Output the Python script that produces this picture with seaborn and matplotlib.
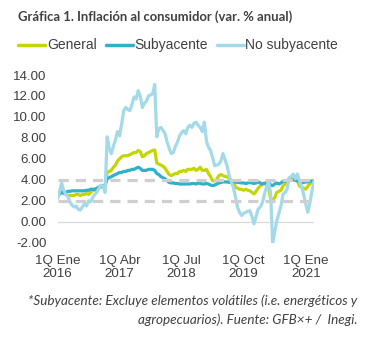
import numpy as np
import pandas as pd
import matplotlib
matplotlib.use("Agg")
import matplotlib.pyplot as plt
import seaborn as sns

# Biweekly annual inflation (%), 1Q Ene 2016 onward
general = [
    2.5, 2.6, 2.9, 2.8, 2.6, 2.5, 2.5, 2.5, 2.5, 2.6, 2.6, 2.5, 2.6, 2.6, 2.7, 2.6,
    2.8, 3.0, 3.0, 3.1, 3.3, 3.3, 3.4, 3.4, 4.7, 4.8, 4.9, 5.2, 5.4, 5.8, 6.0, 6.2,
    6.3, 6.3, 6.3, 6.4, 6.5, 6.6, 6.6, 6.8, 6.7, 6.2, 6.3, 6.5, 6.6, 6.7, 6.8, 6.85,
    5.6, 5.5, 5.4, 5.3, 5.1, 4.8, 4.5, 4.4, 4.5, 4.6, 4.6, 4.8, 4.8, 4.9, 4.8, 5.0,
    5.0, 5.0, 5.1, 4.9, 5.0, 5.2, 4.9, 4.9, 5.0, 4.6, 4.3, 3.9, 3.9, 4.05, 4.4, 4.5,
    4.4, 4.3, 4.3, 4.1, 3.9, 3.8, 3.3, 3.2, 3.1, 3.1, 3.0, 3.1, 3.0, 2.95, 2.8, 2.65,
    2.9, 3.2, 3.4, 3.6, 3.7, 3.5, 3.3, 2.2, 2.1, 2.3, 2.8, 2.9, 3.0, 3.4, 3.6, 3.9,
    4.0, 4.1, 4.1, 4.0, 3.9, 3.4, 3.3, 3.2, 3.1, 3.4, 3.6, 3.8, 3.9,
]
subyacente = [
    2.5, 2.7, 2.8, 2.7, 2.8, 2.9, 2.9, 2.95, 2.95, 2.95, 2.95, 2.95, 2.95, 2.95, 3.0, 3.0,
    3.1, 3.1, 3.1, 3.2, 3.3, 3.35, 3.4, 3.5, 4.1, 4.2, 4.3, 4.4, 4.5, 4.6, 4.7, 4.7,
    4.8, 4.8, 4.9, 4.9, 5.0, 5.0, 5.1, 5.2, 5.1, 4.9, 4.9, 4.9, 5.0, 5.0, 5.0, 4.9,
    4.6, 4.5, 4.3, 4.2, 4.1, 3.9, 3.75, 3.7, 3.7, 3.65, 3.65, 3.6, 3.6, 3.6, 3.6, 3.6,
    3.6, 3.65, 3.65, 3.6, 3.7, 3.65, 3.6, 3.6, 3.65, 3.6, 3.5, 3.45, 3.5, 3.6, 3.7, 3.75,
    3.8, 3.8, 3.8, 3.75, 3.8, 3.8, 3.8, 3.75, 3.75, 3.7, 3.7, 3.65, 3.7, 3.75, 3.7, 3.65,
    3.7, 3.8, 3.7, 3.6, 3.65, 3.7, 3.8, 3.5, 3.45, 3.6, 3.7, 3.6, 3.7, 3.85, 3.85, 3.95,
    3.95, 3.95, 4.0, 3.95, 3.9, 3.8, 3.7, 3.75, 3.8, 3.8, 3.85, 3.9, 3.85,
]
no_subyacente = [
    2.2, 2.9, 3.7, 3.0, 2.6, 2.4, 1.9, 1.6, 1.4, 1.5, 1.2, 1.1, 1.4, 1.7, 1.5, 2.0,
    1.9, 2.3, 2.6, 2.8, 3.2, 3.5, 3.4, 2.8, 8.1, 7.0, 6.5, 7.2, 7.8, 8.6, 8.2, 9.3,
    10.6, 10.9, 10.7, 10.6, 11.2, 11.9, 11.7, 12.5, 12.0, 10.9, 11.3, 11.5, 12.0, 12.1, 12.2, 13.1,
    8.1, 8.9, 9.0, 8.7, 8.4, 7.6, 7.0, 6.5, 6.6, 7.2, 7.6, 8.2, 8.5, 8.7, 8.4, 9.0,
    9.2, 9.0, 9.4, 9.5, 9.2, 9.0, 8.6, 9.5, 7.7, 7.1, 6.8, 6.1, 5.35, 5.4, 5.5, 5.8,
    6.5, 5.9, 5.3, 4.4, 3.8, 3.3, 2.4, 1.4, 0.9, 0.6, 0.8, 0.9, 1.0, 1.05, 0.5, -0.2,
    0.5, 1.2, 1.4, 1.8, 2.6, 3.3, 3.8, 2.8, -2.0, -1.0, 0.1, 0.8, 1.5, 2.6, 2.8, 3.1,
    4.2, 4.3, 4.55, 4.1, 4.55, 3.9, 3.3, 2.6, 1.7, 0.9, 1.8, 2.9, 3.9,
]
series_names = ["General", "Subyacente", "No subyacente"]
series_colors = ["#c4d600", "#2fb0cb", "#a3dae9"]
x_tick_labels = ["1Q Ene\n2016", "1Q Abr\n2017", "1Q Jul\n2018", "1Q Oct\n2019", "1Q Ene\n2021"]
x_tick_index = [0, 30, 60, 90, 120]
y_ticks = [-2, 0, 2, 4, 6, 8, 10, 12, 14]
target_band = [2, 4]

n = len(general)
df = pd.DataFrame({
    "idx": np.arange(n),
    "General": general,
    "Subyacente": subyacente,
    "No subyacente": no_subyacente,
})
long = df.melt(id_vars="idx", var_name="serie", value_name="valor")

sns.set_style("white")
plt.rcParams["font.family"] = ["Liberation Sans", "DejaVu Sans"]
text_color = "#404040"

fig = plt.figure(figsize=(3.68, 3.38), dpi=100)
ax = fig.add_axes([57.5 / 368, 95.3 / 338, (314 - 57.5) / 368, (263 - 95.3) / 338])

sns.lineplot(data=long, x="idx", y="valor", hue="serie", hue_order=series_names,
             palette=series_colors, linewidth=2.3, ax=ax, legend=False)

# zero reference line
ax.axhline(0, color="#d9d9d9", linewidth=0.9, zorder=0.5)
# target band limits
for lvl in target_band:
    ax.axhline(lvl, color="#cfcfcf", linewidth=2.3, linestyle=(0, (3.2, 2.2)), zorder=5)

ax.set_xlim(0, n - 1)
ax.set_ylim(-2, 14)
ax.set_yticks(y_ticks)
ax.set_yticklabels([f"{v:.2f}" for v in y_ticks])
ax.set_xticks(x_tick_index)
ax.set_xticklabels(x_tick_labels, linespacing=1.05)
ax.tick_params(axis="both", length=0, labelsize=9.6, labelcolor=text_color)
ax.tick_params(axis="y", pad=8)
ax.tick_params(axis="x", pad=9)
ax.set_xlabel("")
ax.set_ylabel("")
for s in ax.spines.values():
    s.set_visible(False)
ax.grid(False)

# title
fig.text(18 / 368, 1 - 17 / 338, "Gráfica 1. Inflación al consumidor (var. % anual)",
         fontsize=9.4, fontweight="bold", color=text_color, va="center", ha="left",
         family=["Lato", "DejaVu Sans"])

# legend drawn as line swatches + labels
legend_items = [(18, 47), (106, 134), (217, 245)]
for (x0, xt), name, col in zip(legend_items, series_names, series_colors):
    y = 1 - 45 / 338
    fig.add_artist(plt.Line2D([x0 / 368, (x0 + 27) / 368], [y, y], color=col,
                              linewidth=2.5, transform=fig.transFigure))
    fig.text(xt / 368, y, name, fontsize=10, color=text_color, va="center", ha="left")

# footnote
fig.text(357 / 368, 1 - 301 / 338,
         "*Subyacente: Excluye elementos volátiles (i.e. energéticos y",
         fontsize=9.7, style="italic", color=text_color, ha="right", va="center",
         family=["Lato", "DejaVu Sans"])
fig.text(357 / 368, 1 - 320 / 338,
         "agropecuarios). Fuente: GFB×+ /  Inegi.",
         fontsize=9.7, style="italic", color=text_color, ha="right", va="center",
         family=["Lato", "DejaVu Sans"])

fig.savefig("out.png", dpi=100)
